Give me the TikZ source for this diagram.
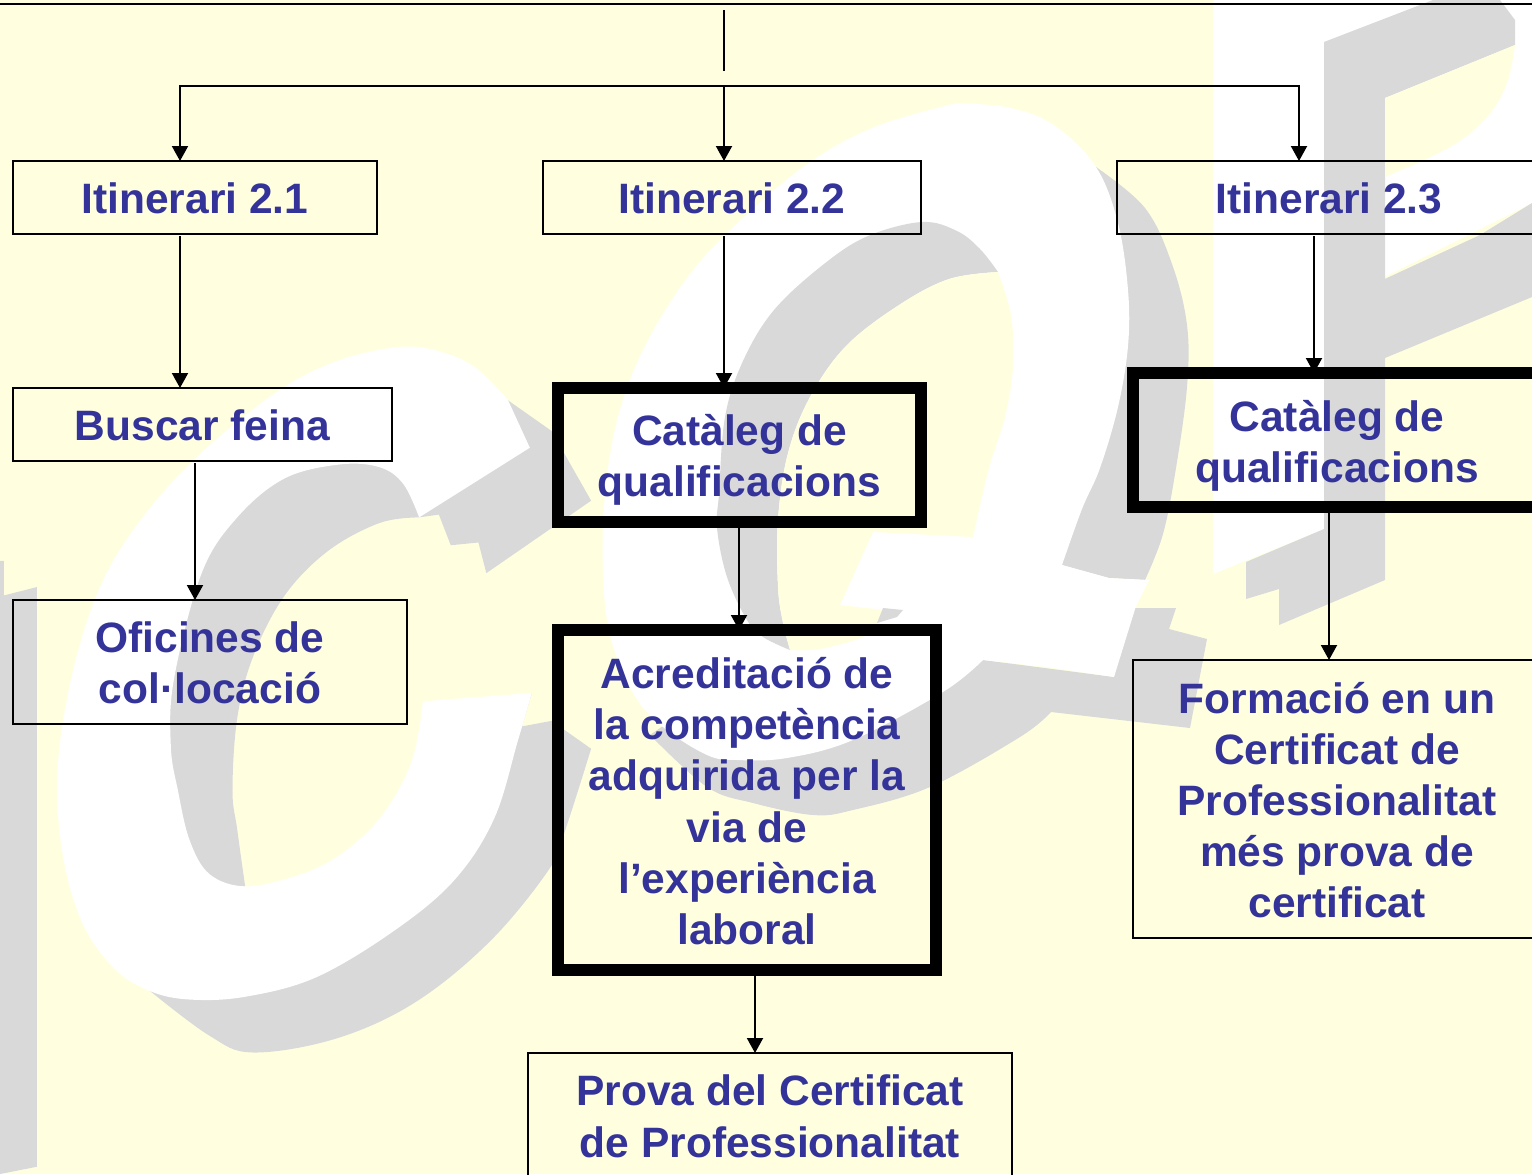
\documentclass[tikz,border=0pt]{standalone}
\usepackage{fontspec}
\setmainfont{Liberation Sans}[Ligatures=CommonOff]
\definecolor{bgy}{HTML}{FFFFE0}
\definecolor{wmg}{HTML}{D9D9D9}
\definecolor{txt}{HTML}{333399}
\usetikzlibrary{arrows.meta}
\newcommand{\firstht}[1]{\rule{0pt}{#1pt}}
\tikzset{
  thinbox/.style={draw=black,line width=1pt,outer sep=0pt,inner sep=0pt,align=center,text=txt,font=\fontsize{21.25}{25.6}\selectfont\bfseries},
  thickbox/.style={thinbox,line width=6pt},
  line/.style={draw=black,line width=1pt},
  arr/.style={line,-{Triangle[length=7.5pt,width=8pt]}},
  gapped/.style={arr,shorten <=1pt},
  wmgray/.style={fill=wmg,draw=none,smooth,tension=.6},
  wmwhite/.style={fill=white,draw=none,smooth,tension=.6},
  wmyellow/.style={fill=bgy,draw=none,smooth,tension=.6},
  zoomA/.style={shift={(0,300)},xscale=.3954,yscale=.5574}
}
\begin{document}
\begin{tikzpicture}[x=0.5pt,y=-0.5pt]
\useasboundingbox (0,0) rectangle (1532,1174);
\clip (0,0) rectangle (1532,1174);
\fill[bgy] (0,0) rectangle (1532,1174);
% watermark: I and C
\begin{scope}[zoomA]
\fill[wmgray] (0,468)--(10,468)--(10,530)--(93,515)--(93,1555)--(0,1568)--cycle;
\fill[wmgray] (1285,180)--(1395,235)--(1495,360)--(1230,490)--(1210,435)--(1140,440)--(1110,385)--(1060,390) -- plot coordinates {(1060,390)(960,400)(830,450)(720,530)(640,640)(600,750)(588,880)(600,950)(620,1052)} --(500,1052)--(400,800)--(500,400)--(900,250)--cycle;
\fill[wmgray] (1345,705)--(1320,765)--(1395,755) -- (1495,805) -- plot coordinates {(1495,805)(1430,950)(1390,1020)(1240,1150)(1050,1260)(850,1325)(640,1350)(530,1320)(380,1240)} --(800,1100)--(1200,800)--cycle;
\fill[wmwhite] (1340,265)-- plot coordinates {(1285,180)(1200,120)(1100,90)(1000,85)(850,110)(700,165)(500,280)(350,400)(250,520)(180,680)(145,850)(160,1000)(210,1120)(290,1200)(380,1240)(480,1255)(620,1250)(800,1215)(1000,1130)(1150,1040)(1250,930)(1310,790)(1345,705)} -- plot coordinates {(1070,720)(1040,830)(960,930)(850,1000)(740,1035)(620,1052)(530,1030)(480,970)(450,880)(432,800)(440,680)(510,490)(600,390)(720,320)(860,295)(960,300)(1020,330)(1060,390)} --cycle;
\end{scope}
% watermark: Q
\fill[wmgray] plot coordinates {(1096,167)(1145,208)(1172,264)(1187,325)(1187,387)(1176,468)(1163,534)(1145,580)} --(1109,578)--(1062,565)--(1000,500)--cycle;
\fill[wmgray] (983,660)--(1114,677)--(1131,608)--(1176,608)--(1169,629)--(1207,639)--(1190,728)--(1051,712) -- plot coordinates {(1051,712)(1020,737)(930,787)(853,810)(813,815)(753,803)(707,787)(650,735)} --(700,700)--(900,680)--cycle;
\fill[wmwhite] plot coordinates {(957,103)(1011,108)(1055,126)(1096,167)(1118,223)(1128,290)(1128,346)(1118,407)(1100,468)(1082,509)(1062,565)} --(1109,578)--(1149,580)--(1136,606)--(1114,677)--(1047,667)--(983,660) -- plot coordinates {(983,660)(943,692)(853,740)(787,758)(737,760)(707,755)(663,727)(633,693)(610,635)(603,570)(605,494)(618,417)(645,346)(690,274)(743,218)(810,162)(877,126)(957,103)} --cycle;
\fill[wmgray] plot coordinates {(998,272)(980,249)(957,231)(922,222)(868,236)(824,264)(774,310)(743,361)(725,417)(719,494)(717,528)(727,577)(747,620)(763,637)(790,650)} -- plot coordinates {(790,650)(783,623)(778,587)(778,519)(788,453)(810,397)(846,346)(899,305)(949,279)(998,272)} --cycle;
\fill[wmyellow] plot coordinates {(998,272)(949,279)(899,305)(846,346)(810,397)(788,453)(778,519)(778,587)(783,623)(790,650)} -- plot coordinates {(790,650)(820,649)(863,637)(877,623)(884,610)} --(840,605)--(873,532)--(973,537) -- plot coordinates {(973,537)(989,468)(1005,417)(1013,366)(1011,315)(998,272)} --cycle;
\fill[wmgray] (877,623)--(883,608)--(903,610)--(897,617)--cycle;
% watermark: F
\fill[wmwhite] (1213,0)--(1532,0)--(1532,203)--(1324,307)--(1324,529)--(1213,574)--cycle;
\fill[wmgray] (1324,42)--(1433,0)--(1500,0)--(1515,20)--(1515,45)--(1385,98)--(1385,580)--(1279,625)--(1279,589)--(1246,599)--(1246,562)--(1324,529)--cycle;
\fill[wmgray] (1324,307)--(1480,235)--(1532,203)--(1532,297)--(1385,358)--cycle;
\fill[wmyellow] (1385,98)--(1515,45) -- plot coordinates {(1515,45)(1507,83)(1487,117)(1450,147)(1385,177)} --cycle;
% top rule and free coordinates
\coordinate (tl) at (0,4);
\coordinate (tr) at (1532,4);
\coordinate (st) at (724,10);
\coordinate (se) at (724,71);
\coordinate (bl) at (180,86);
\coordinate (bm) at (724,86);
\coordinate (br) at (1299,86);
\coordinate (xa) at (180,0);
\coordinate (xb) at (195,0);
\coordinate (xc) at (724,0);
\coordinate (xd) at (739,0);
\coordinate (xe) at (755,0);
\coordinate (xf) at (1314,0);
\coordinate (xg) at (1329,0);
% boxes
\node[thinbox,minimum width=182pt,minimum height=36.5pt] (i1) at (195,197.5) {\firstht{16.5}Itinerari 2.1};
\node[thinbox,minimum width=189pt,minimum height=36.5pt] (i2) at (732,197.5) {\firstht{16.5}Itinerari 2.2};
\node[thinbox,minimum width=212pt,minimum height=36.5pt] (i3) at (1329,197.5) {\firstht{16.5}Itinerari 2.3};
\node[thinbox,minimum width=189.5pt,minimum height=36.5pt] (b1) at (202.5,424.5) {\firstht{16.5}Buscar feina};
\node[thinbox,minimum width=197pt,minimum height=62pt] (o1) at (210,662) {\firstht{16}Oficines de\\col·locació};
\node[thickbox,minimum width=181.5pt,minimum height=67pt] (c2) at (739.5,455) {\firstht{20.3}Catàleg de\\qualificacions};
\node[thickbox,minimum width=189pt,minimum height=170pt] (a2) at (747,800) {\firstht{16.7}Acreditació de\\la competència\\adquirida per la\\via de\\l’experiència\\laboral};
\node[thinbox,minimum width=242pt,minimum height=64pt] (p2) at (770,1117) {Prova del Certificat\\de Professionalitat\rule[-1pt]{0pt}{1pt}};
\node[thickbox,minimum width=204pt,minimum height=67pt] (c3) at (1337,440) {\firstht{21.3}Catàleg de\\qualificacions};
\node[thinbox,minimum width=204pt,minimum height=139pt] (f3) at (1337,799) {\firstht{16.7}Formació en un\\Certificat de\\Professionalitat\\més prova de\\certificat};
% connectors
\draw[line] (tl) -- (tr);
\draw[line] (st) -- (se);
\draw[arr] (bm) -- (bl) -- (bl |- i1.north);
\draw[arr] (bm) -- (bm |- i2.north);
\draw[arr] (bm) -- (br) -- (br |- i3.north);
\draw[gapped] (xa |- i1.south) -- (xa |- b1.north);
\draw[gapped] (xb |- b1.south) -- (xb |- o1.north);
\draw[gapped] (xc |- i2.south) -- (xc |- c2.north);
\draw[arr] (xd |- c2.south) -- (xd |- a2.north);
\draw[gapped] (xe |- a2.south) -- (xe |- p2.north);
\draw[gapped] (xf |- i3.south) -- (xf |- c3.north);
\draw[arr] (xg |- c3.south) -- (xg |- f3.north);
\end{tikzpicture}
\end{document}
